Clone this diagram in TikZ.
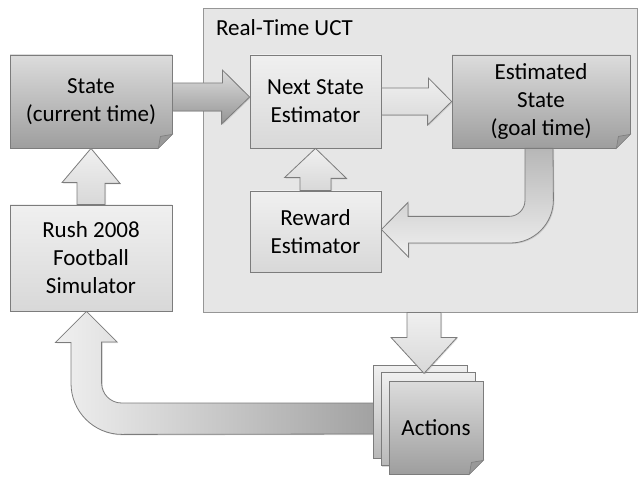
\documentclass[tikz,border=0pt]{standalone}
\usepackage{fontspec}
\setmainfont{Carlito}
\usetikzlibrary{calc,shadows,backgrounds}

\definecolor{uctfill}{HTML}{E6E6E6}
\definecolor{edge}{HTML}{7C7C7C}
\definecolor{lighttop}{HTML}{F0F0F0}
\definecolor{lightbot}{HTML}{D8D8D8}
\definecolor{darktop}{HTML}{DCDCDC}
\definecolor{darkbot}{HTML}{9E9E9E}
\definecolor{pagebot}{HTML}{B8B8B8}
\definecolor{foldgray}{HTML}{999999}

\newcommand{\boxfont}{\fontsize{23}{28}\selectfont}

\tikzset{
  frame/.style={draw=edge!80, line width=0.8pt, fill=uctfill,
    minimum width=434pt, minimum height=304pt, inner sep=0pt,
    drop shadow={shadow xshift=1.2pt, shadow yshift=-1.2pt, opacity=0.25}},
  lightbox/.style={draw=edge, line width=0.8pt, top color=lighttop, bottom color=lightbot,
    align=center, font=\boxfont,
    drop shadow={shadow xshift=1.2pt, shadow yshift=-1.2pt, opacity=0.3}},
  darkbox/.style={lightbox, top color=darktop, bottom color=darkbot},
  pagebox/.style={lightbox, top color=lighttop, bottom color=pagebot},
  fold/.style={draw=edge, line width=0.6pt, fill=foldgray},
  lightarrow/.style={draw=edge, line width=0.8pt, top color=lighttop, bottom color=lightbot,
    drop shadow={shadow xshift=1pt, shadow yshift=-1pt, opacity=0.25}},
  darkarrow/.style={lightarrow, top color=darktop, bottom color=darkbot!110},
}

\begin{document}
\begin{tikzpicture}[x=1pt,y=1pt]
    \useasboundingbox (0,0) rectangle (639,477);

    % Real-Time UCT frame
    \node[frame] (uct) at (420,317) {};
    \node[anchor=base west, font=\boxfont] (title) at ($(uct.north west)+(10,-28)$) {Real-Time UCT};

    % Boxes
    \node[darkbox, minimum width=162pt, minimum height=93pt] (state) at (91,375.5) {State\\(current time)};
    \node[lightbox, minimum width=131pt, minimum height=93pt] (next) at (315.5,375.5) {Next State\\Estimator};
    \node[darkbox, minimum width=178pt, minimum height=93pt] (est) at (541,375.5) {Estimated\\State\\(goal time)};
    \node[lightbox, minimum width=131pt, minimum height=81pt] (reward) at (315.5,245.5) {Reward\\Estimator};
    \node[lightbox, minimum width=162pt, minimum height=106pt] (rush) at (91,219) {Rush 2008\\Football\\Simulator};

    % Folded corners
    \fill[white] ($(state.south east)+(1.5,-1.5)$) -- ($(state.south east)+(1.5,15.5)$) -- ($(state.south east)+(-15.5,-1.5)$) -- cycle;
    \filldraw[fold] ($(state.south east)+(0,14)$) -- ($(state.south east)+(-14,0)$) -- ($(state.south east)+(-12,12)$) -- cycle;
    \fill[uctfill] ($(est.south east)+(1.5,-1.5)$) -- ($(est.south east)+(1.5,15.5)$) -- ($(est.south east)+(-15.5,-1.5)$) -- cycle;
    \filldraw[fold] ($(est.south east)+(0,14)$) -- ($(est.south east)+(-14,0)$) -- ($(est.south east)+(-12,12)$) -- cycle;

    % State -> Next State Estimator
    \path[darkarrow] ($(state.east)+(0,18.5)$) -- ++(50,0) -- ++(0,13) -- ($(next.west)+(0,4.5)$)
        -- ++(-28,-27) -- ++(0,13) -- ($(state.east)+(0,-9.5)$) -- cycle;

    % Next State Estimator -> Estimated State
    \path[lightarrow] ($(next.east)+(0,13.5)$) -- ++(47,0) -- ++(0,10) -- (est.west)
        -- ++(-24,-23.5) -- ++(0,10) -- ($(next.east)+(0,-13.5)$) -- cycle;

    % Reward Estimator -> Next State Estimator
    \path[lightarrow] ($(reward.north)+(-15.5,0)$) -- ++(0,13) -- ++(-15.5,0) -- (next.south)
        -- ++(31,-30) -- ++(-15.5,0) -- ($(reward.north)+(15.5,0)$) -- cycle;

    % Simulator -> State
    \path[lightarrow] ($(rush.north)+(-14,0)$) -- ++(0,22) -- ++(-15,0) -- (state.south)
        -- ++(29,-35) -- ++(-15,0) -- ($(rush.north)+(14,0)$) -- cycle;

    % Estimated State -> Reward Estimator
    \path[lightarrow, top color=darkbot!70!lighttop, bottom color=lighttop]
        ($(est.south)+(-16,0)$) -- ++(0,-52) arc[start angle=0, end angle=-90, radius=16]
        -- ++(-101,0) -- ++(0,14) -- ($(reward.east)+(0,2)$) -- ++(27,-27.5) -- ++(0,14)
        -- ++(102,0) arc[start angle=-90, end angle=0, radius=43] -- ($(est.south)+(12,0)$) -- cycle;

    % Actions stack
    \node[pagebox, minimum width=94pt, minimum height=93pt] (page3) at (420,65.5) {};
    \node[pagebox, minimum width=94pt, minimum height=93pt] (page2) at (428,58) {};
    \node[darkbox, minimum width=94pt, minimum height=93pt] (actions) at (436,49.5) {Actions};
    \fill[white] ($(actions.south east)+(1.5,-1.5)$) -- ($(actions.south east)+(1.5,15.5)$) -- ($(actions.south east)+(-15.5,-1.5)$) -- cycle;
    \filldraw[fold] ($(actions.south east)+(0,14)$) -- ($(actions.south east)+(-14,0)$) -- ($(actions.south east)+(-12,12)$) -- cycle;

    % Real-Time UCT -> Actions
    \path[lightarrow] ($(uct.south)+(-13,0)$) -- ++(0,-25) -- ++(-16,0) -- ++(33,-36)
        -- ++(33,36) -- ++(-16,0) -- ($(uct.south)+(21,0)$) -- cycle;

    % Actions -> Simulator (behind the pages)
    \begin{pgfonlayer}{background}
    \path[lightarrow, left color=lighttop, right color=darkbot]
        ($(actions.west)+(0,24.5)$) -- ++(-267,0) arc[start angle=-90, end angle=-180, radius=20]
        -- ++(0,41) -- ++(15.5,0) -- ($(rush.south)+(-4.5,0)$) -- ++(-31,-31) -- ++(15.5,0)
        -- ++(0,-41) arc[start angle=180, end angle=270, radius=51] -- ($(actions.west)+(0,-6.5)$) -- cycle;
    \end{pgfonlayer}
\end{tikzpicture}
\end{document}
